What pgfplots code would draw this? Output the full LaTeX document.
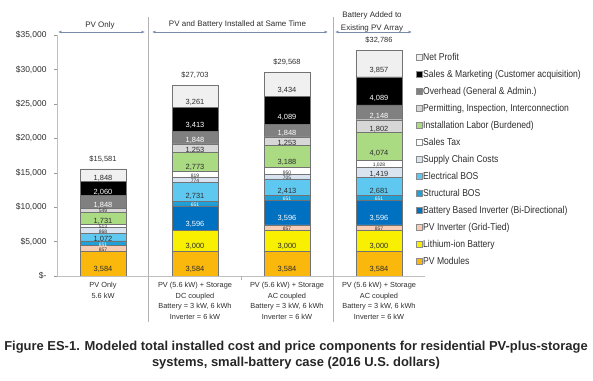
\documentclass[border=0pt]{standalone}
\usepackage{pgfplots}
\usepackage{pgfplotstable}
\pgfplotsset{compat=1.18}
\usepackage{fontspec}
\setmainfont{Liberation Sans}
\newfontfamily\narrowfont[FakeStretch=0.86]{Liberation Sans}
\usetikzlibrary{arrows.meta}

\definecolor{cMod}{RGB}{250,183,12}
\definecolor{cBat}{RGB}{248,240,0}
\definecolor{cPVInv}{RGB}{246,205,180}
\definecolor{cBInv}{RGB}{0,112,192}
\definecolor{cStr}{RGB}{32,160,215}
\definecolor{cElec}{RGB}{95,200,240}
\definecolor{cSupp}{RGB}{218,228,240}
\definecolor{cTax}{RGB}{255,255,255}
\definecolor{cLab}{RGB}{170,218,130}
\definecolor{cPerm}{RGB}{215,215,215}
\definecolor{cOver}{RGB}{128,128,128}
\definecolor{cSales}{RGB}{0,0,0}
\definecolor{cProf}{RGB}{240,240,240}
\definecolor{txt}{RGB}{45,45,45}
\definecolor{arr}{RGB}{120,140,170}

\pgfplotstableread{
x mod bat pvinv binv str elec supp tax lab perm over sales prof
0 3584 0 857 0 651 1072 868 513 1731 549 1848 2060 1848
1 3584 3000 0 3596 651 2731 774 819 2773 1253 1848 3413 3261
2 3584 3000 857 3596 651 2413 705 950 3188 1253 1848 4089 3434
3 3584 3000 857 3596 651 2681 1419 1028 4074 1802 2148 4089 3857
}\costs

\pgfplotstableread{
x y lab
0 15581 {\$15,581}
1 27703 {\$27,703}
2 29568 {\$29,568}
3 32786 {\$32,786}
}\totals

\pgfplotsset{
  calculate offset/.code={%
    \pgfkeys{/pgf/fpu=true,/pgf/fpu/output format=fixed}%
    \pgfmathsetmacro\testmacro{\pgfplotspointmeta*0.00172143}%
    \pgfkeys{/pgf/fpu=false}%
  },
}

\begin{document}
\begin{tikzpicture}
\useasboundingbox (-57bp,-105bp) rectangle (536bp,276bp);
\begin{axis}[
  at={(0,0)}, anchor=south west,
  scale only axis, width=368bp, height=241bp,
  ybar stacked, bar width=0.5,
  xmin=-0.5, xmax=3.5, ymin=0, ymax=35000,
  scaled y ticks=false,
  axis x line*=bottom, axis y line*=left,
  axis line style={draw=black!25},
  xtick={0,1,2,3},
  xticklabels={{PV Only\\5.6 kW},{PV (5.6 kW) + Storage\\DC coupled\\Battery = 3 kW, 6 kWh\\Inverter = 6 kW},{PV (5.6 kW) + Storage\\AC coupled\\Battery = 3 kW, 6 kWh\\Inverter = 6 kW},{PV (5.6 kW) + Storage\\AC coupled\\Battery = 3 kW, 6 kWh\\Inverter = 6 kW}},
  xticklabel style={align=center, font=\fontsize{7.4}{10.5}\selectfont, text=txt},
  xtick style={draw=none},
  extra x ticks={1.5},
  extra x tick labels={},
  extra x tick style={xtick style={draw=black!30}, major tick length=4bp, tick align=outside},
  ytick={0,5000,...,35000},
  yticklabels={{\$-},{\$5,000},{\$10,000},{\$15,000},{\$20,000},{\$25,000},{\$30,000},{\$35,000}},
  yticklabel style={font=\fontsize{8.5}{10}\selectfont, text=txt, xshift=-4bp},
  ytick style={draw=black!40},
  tick align=outside, major tick length=3bp,
  legend image code/.code={\draw[#1,draw=black!45,line width=0.4pt] (0pt,-3pt) rectangle (6pt,3pt);},
  reverse legend,
  legend cell align=left,
  legend style={at={(0.967,0.938)}, anchor=north west, draw=none, fill=none,
    font=\narrowfont\fontsize{10}{12}\selectfont, text=txt, row sep=6.7bp, nodes={inner sep=0.8pt}},
  nodes near coords={\pgfmathfloatifflags{\pgfplotspointmeta}{0}{}{\pgfmathfloattofixed{\pgfplotspointmeta}\ifdim\pgfmathresult pt<1050pt\fontsize{5}{5}\selectfont\fi\pgfmathprintnumber{\pgfplotspointmeta}}},
  nodes near coords align={center},
  every node near coord/.append style={font=\fontsize{7.5}{7.5}\selectfont, text=txt, inner sep=0pt,
    /pgfplots/calculate offset, yshift=-\testmacro bp},
  /pgf/number format/.cd, 1000 sep={,}, fixed, precision=0, assume math mode=true,
]
\addplot[fill=cMod, draw=black!55, line width=0.4pt] table[x=x,y=mod] {\costs};
\addlegendentry{PV Modules}
\addplot[fill=cBat, draw=black!55, line width=0.4pt] table[x=x,y=bat] {\costs};
\addlegendentry{Lithium-ion Battery}
\addplot[fill=cPVInv, draw=black!55, line width=0.4pt] table[x=x,y=pvinv] {\costs};
\addlegendentry{PV Inverter (Grid-Tied)}
\addplot[fill=cBInv, draw=black!55, line width=0.4pt, every node near coord/.append style={text=white}] table[x=x,y=binv] {\costs};
\addlegendentry{Battery Based Inverter (Bi-Directional)}
\addplot[fill=cStr, draw=black!55, line width=0.4pt, every node near coord/.append style={text=white}] table[x=x,y=str] {\costs};
\addlegendentry{Structural BOS}
\addplot[fill=cElec, draw=black!55, line width=0.4pt] table[x=x,y=elec] {\costs};
\addlegendentry{Electrical BOS}
\addplot[fill=cSupp, draw=black!55, line width=0.4pt] table[x=x,y=supp] {\costs};
\addlegendentry{Supply Chain Costs}
\addplot[fill=cTax, draw=black!55, line width=0.4pt] table[x=x,y=tax] {\costs};
\addlegendentry{Sales Tax}
\addplot[fill=cLab, draw=black!55, line width=0.4pt] table[x=x,y=lab] {\costs};
\addlegendentry{Installation Labor (Burdened)}
\addplot[fill=cPerm, draw=black!55, line width=0.4pt] table[x=x,y=perm] {\costs};
\addlegendentry{Permitting, Inspection, Interconnection}
\addplot[fill=cOver, draw=black!55, line width=0.4pt, every node near coord/.append style={text=white}] table[x=x,y=over] {\costs};
\addlegendentry{Overhead (General \& Admin.)}
\addplot[fill=cSales, draw=black!55, line width=0.4pt, every node near coord/.append style={text=white}] table[x=x,y=sales] {\costs};
\addlegendentry{Sales \& Marketing (Customer acquisition)}
\addplot[fill=cProf, draw=black!55, line width=0.4pt] table[x=x,y=prof] {\costs};
\addlegendentry{Net Profit}
\end{axis}

\begin{axis}[
  at={(0,0)}, anchor=south west,
  scale only axis, width=368bp, height=241bp,
  xmin=-0.5, xmax=3.5, ymin=0, ymax=35000,
  hide axis, clip=false,
]
\addplot[only marks, mark=none, nodes near coords, point meta=explicit symbolic,
  every node near coord/.append style={font=\fontsize{7.5}{9}\selectfont, text=txt, yshift=3bp}]
  table[x=x,y=y,meta=lab] {\totals};
\end{axis}

% separators
\draw[black!30, line width=0.6pt] (91.5bp,259bp) -- (91.5bp,-46bp);
\draw[black!30, line width=0.6pt] (276bp,259bp) -- (276bp,-46bp);
% group headers
\node[font=\fontsize{8}{9.6}\selectfont, text=txt] at (43bp,251bp) {PV Only};
\node[font=\fontsize{8}{9.6}\selectfont, text=txt] at (180.5bp,252bp) {PV and Battery Installed at Same Time};
\node[font=\fontsize{8}{13}\selectfont, text=txt, align=center] at (315bp,254.5bp) {Battery Added to\\Existing PV Array};
\draw[arr, line width=0.7pt, {Latex[length=3.5pt,width=3pt]}-{Latex[length=3.5pt,width=3pt]}] (1bp,244bp) -- (88bp,244bp);
\draw[arr, line width=0.7pt, {Latex[length=3.5pt,width=3pt]}-{Latex[length=3.5pt,width=3pt]}] (95bp,244bp) -- (271bp,244bp);
\draw[arr, line width=0.7pt, {Latex[length=3.5pt,width=3pt]}-{Latex[length=3.5pt,width=3pt]}] (278bp,244bp) -- (355bp,244bp);
% caption
\node[font=\bfseries\fontsize{13}{16}\selectfont, text=black!85, align=center] at (239bp,-79bp)
  {Figure ES-1. Modeled total installed cost and price components for residential PV-plus-storage\\systems, small-battery case (2016 U.S. dollars)};
\end{tikzpicture}
\end{document}
